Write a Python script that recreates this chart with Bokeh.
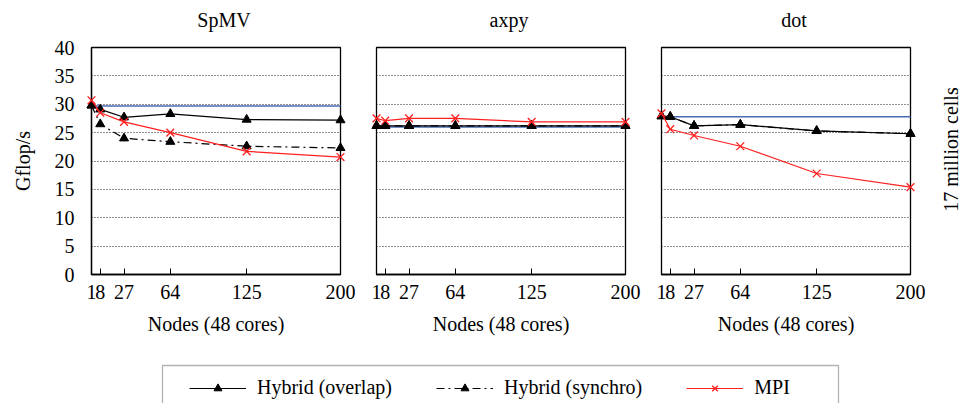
from bokeh.plotting import figure
from bokeh.layouts import column, row
from bokeh.models import (Range1d, FixedTicker, Legend, LegendItem, Label,
                          BoxAnnotation)
from bokeh.embed import file_html
from bokeh.resources import INLINE

# ---- data -------------------------------------------------------------
nodes = [1, 8, 27, 64, 125, 200]
node_ticks = [1, 8, 27, 64, 125, 200]
gflops_ticks = [0, 5, 10, 15, 20, 25, 30, 35, 40]
grid_levels = [5, 10, 15, 20, 25, 30, 35]

kernels = ["SpMV", "axpy", "dot"]

spmv_overlap = [29.8, 29.1, 27.7, 28.3, 27.3, 27.2]
spmv_synchro = [29.8, 26.5, 24.0, 23.4, 22.6, 22.3]
spmv_mpi = [30.7, 28.5, 26.9, 25.0, 21.7, 20.7]
spmv_single_node = 29.7

axpy_overlap = [26.2, 26.2, 26.2, 26.2, 26.2, 26.2]
axpy_synchro = [26.2, 26.2, 26.2, 26.2, 26.2, 26.2]
axpy_mpi = [27.5, 27.1, 27.5, 27.5, 26.9, 26.9]
axpy_single_node = 26.0

dot_overlap = [27.9, 27.8, 26.2, 26.4, 25.3, 24.8]
dot_synchro = [27.9, 27.8, 26.2, 26.4, 25.3, 24.8]
dot_mpi = [28.4, 25.6, 24.5, 22.6, 17.8, 15.4]
dot_single_node = 27.8

series = {
    "SpMV": (spmv_overlap, spmv_synchro, spmv_mpi, spmv_single_node),
    "axpy": (axpy_overlap, axpy_synchro, axpy_mpi, axpy_single_node),
    "dot": (dot_overlap, dot_synchro, dot_mpi, dot_single_node),
}

# ---- style ------------------------------------------------------------
FONT = "Liberation Serif"
FS = "20px"
TXT = "black"
BLACK = "#000000"
RED = "#ff1f1f"
BLUE = "#4a6cb3"
SYNCHRO_DASH = "8 4 2 4"

FRAME_W, FRAME_H = 249, 227
LEFT_FIRST, GAP = 91, 18
TOP, BOTTOM = 12, 88
ROW_H = TOP + FRAME_H + BOTTOM
TITLE_H, LEGEND_H = 35, 41


def panel(i, name):
    first = i == 0
    overlap, synchro, mpi, single = series[name]
    left = LEFT_FIRST if first else GAP
    p = figure(width=left + FRAME_W + GAP, height=ROW_H,
               x_range=Range1d(1, 200), y_range=Range1d(0, 40),
               min_border_left=left, min_border_right=GAP,
               min_border_top=TOP, min_border_bottom=BOTTOM,
               toolbar_location=None, output_backend="svg")
    p.outline_line_color = BLACK
    p.outline_line_width = 1.3

    xa = p.xaxis[0]
    xa.ticker = FixedTicker(ticks=node_ticks)
    xa.major_tick_in = 6
    xa.major_tick_out = 0
    xa.axis_line_color = BLACK
    xa.axis_line_width = 1.3
    xa.major_tick_line_color = BLACK
    xa.major_label_text_font = FONT
    xa.major_label_text_font_size = FS
    xa.major_label_text_color = TXT
    xa.major_label_standoff = 10
    xa.axis_label = "Nodes (48 cores)"
    xa.axis_label_text_font = FONT
    xa.axis_label_text_font_size = FS
    xa.axis_label_text_font_style = "normal"
    xa.axis_label_text_color = TXT
    xa.axis_label_standoff = 11

    ya = p.yaxis[0]
    ya.ticker = FixedTicker(ticks=gflops_ticks)
    ya.major_tick_in = 0
    ya.major_tick_out = 0
    ya.axis_line_color = BLACK
    ya.axis_line_width = 1.3
    ya.major_label_text_font = FONT
    ya.major_label_text_font_size = FS
    ya.major_label_text_color = TXT
    ya.major_label_standoff = 17
    if first:
        ya.axis_label = "Gflop/s"
        ya.axis_label_text_font = FONT
        ya.axis_label_text_font_size = FS
        ya.axis_label_text_font_style = "normal"
        ya.axis_label_text_color = TXT
        ya.axis_label_standoff = 18
    else:
        ya.visible = False

    p.xgrid.visible = False
    p.ygrid.ticker = FixedTicker(ticks=grid_levels)
    p.ygrid.grid_line_color = "#222222"
    p.ygrid.grid_line_dash = "1 2"
    p.ygrid.grid_line_width = 1

    # single-node reference level
    p.line([nodes[0], nodes[-1]], [single, single], line_color=BLUE,
           line_width=1.5, level="overlay")

    p.line(nodes, synchro, line_color=BLACK, line_width=1.2,
           line_dash=SYNCHRO_DASH, level="overlay")
    p.scatter(nodes, synchro, marker="triangle", size=9,
              fill_color=BLACK, line_color=BLACK, level="overlay")

    p.line(nodes, overlap, line_color=BLACK, line_width=1.2, level="overlay")
    p.scatter(nodes, overlap, marker="triangle", size=9,
              fill_color=BLACK, line_color=BLACK, level="overlay")

    p.line(nodes, mpi, line_color=RED, line_width=1.2, level="overlay")
    p.scatter(nodes, mpi, marker="x", size=11, line_color=RED,
              line_width=1.3, level="overlay")
    return p


panels = [panel(i, k) for i, k in enumerate(kernels)]


def blank_strip(width, height):
    s = figure(width=width, height=height, x_range=Range1d(0, width),
               y_range=Range1d(0, height), x_axis_type=None,
               y_axis_type=None, min_border=0, toolbar_location=None,
               output_backend="svg")
    s.outline_line_color = None
    s.grid.visible = False
    return s


# ---- panel titles -------------------------------------------------------
titles = blank_strip(960, TITLE_H)
frame_left = LEFT_FIRST
for name in kernels:
    titles.add_layout(Label(x=frame_left + FRAME_W / 2 + 8, y=16,
                            text=name, text_align="center",
                            text_baseline="alphabetic", text_font=FONT,
                            text_font_size=FS, text_color=TXT))
    frame_left += FRAME_W + 2 * GAP

# ---- side caption for the problem size ---------------------------------
side = blank_strip(960 - (LEFT_FIRST + 3 * FRAME_W + 5 * GAP), ROW_H)
side.add_layout(Label(x=22, y=180, text="17 million cells", angle=90,
                      angle_units="deg", text_align="center",
                      text_baseline="middle", text_font=FONT,
                      text_font_size=FS, text_color=TXT))

# ---- shared legend strip ----------------------------------------------
leg = figure(width=960, height=LEGEND_H, x_range=Range1d(-20, -10),
             y_range=Range1d(-20, -10), x_axis_type=None, y_axis_type=None,
             min_border=0, toolbar_location=None, output_backend="svg")
leg.outline_line_color = None
leg.grid.visible = False

lo = leg.line(nodes, spmv_overlap, line_color=BLACK, line_width=1.2)
so = leg.scatter(nodes, spmv_overlap, marker="triangle", size=9,
                 fill_color=BLACK, line_color=BLACK)
ls = leg.line(nodes, spmv_synchro, line_color=BLACK, line_width=1.2,
              line_dash=SYNCHRO_DASH)
ss = leg.scatter(nodes, spmv_synchro, marker="triangle", size=9,
                 fill_color=BLACK, line_color=BLACK)
lm = leg.line(nodes, spmv_mpi, line_color=RED, line_width=1.2)
sm = leg.scatter(nodes, spmv_mpi, marker="x", size=11, line_color=RED,
                 line_width=1.3)

legend = Legend(items=[
    LegendItem(label="Hybrid (overlap)", renderers=[lo, so]),
    LegendItem(label="Hybrid (synchro)", renderers=[ls, ss]),
    LegendItem(label="MPI", renderers=[lm, sm]),
], orientation="horizontal", location=(189, 4), glyph_width=57,
    glyph_height=20, label_standoff=11, spacing=44, padding=8, margin=0,
    border_line_color=None, background_fill_alpha=0,
    label_text_font=FONT, label_text_font_size=FS, label_text_color=TXT)
leg.add_layout(legend, "center")

leg.add_layout(BoxAnnotation(left=162, right=838, top=LEGEND_H - 3,
                             bottom=-20, left_units="screen",
                             right_units="screen", top_units="screen",
                             bottom_units="screen", fill_alpha=0,
                             line_color=BLACK, line_width=1.3))

layout = column(titles, row(*panels, side, spacing=0), leg, spacing=0)

open("out.html", "w").write(file_html(layout, INLINE))
